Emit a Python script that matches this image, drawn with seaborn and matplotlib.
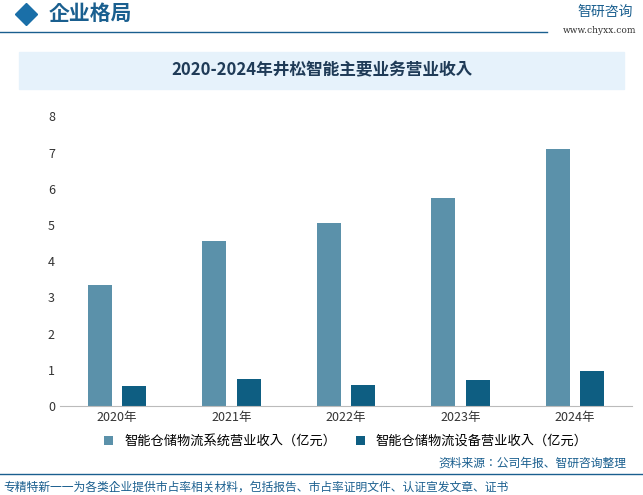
import pandas as pd
import matplotlib.pyplot as plt
import seaborn as sns
from matplotlib.patches import Rectangle

plt.rcParams["font.family"] = ["Noto Sans CJK JP", "Noto Sans CJK SC", "DejaVu Sans"]

years = ["2020年", "2021年", "2022年", "2023年", "2024年"]
series_names = ["智能仓储物流系统营业收入（亿元）", "智能仓储物流设备营业收入（亿元）"]
system_rev = [3.35, 4.55, 5.05, 5.75, 7.1]
equip_rev = [0.55, 0.75, 0.58, 0.72, 0.97]

df = pd.DataFrame({
    "年份": years * 2,
    "系列": [series_names[0]] * 5 + [series_names[1]] * 5,
    "收入": system_rev + equip_rev,
})

fig = plt.figure(figsize=(6.43, 4.95), dpi=100)
ax = fig.add_axes([0.093, 0.18, 0.89, 0.585])

sns.barplot(data=df, x="年份", y="收入", hue="系列", saturation=1,
            palette=["#5b91aa", "#0e5e82"], width=0.6, gap=0.3, ax=ax, legend=True)

ax.set_ylim(0, 8)
ax.set_yticks(range(9))
ax.set_xlabel("")
ax.set_ylabel("")
ax.tick_params(axis="both", length=0, labelsize=9, colors="#333333")
for s in ["top", "right", "left"]:
    ax.spines[s].set_visible(False)
ax.spines["bottom"].set_color("#bbbbbb")
ax.legend(loc="upper center", bbox_to_anchor=(0.5, -0.06), ncol=2, frameon=False,
          fontsize=9.5, handlelength=0.7, handleheight=0.7, columnspacing=1.5)

# header
fig.text(0.075, 0.972, "企业格局", fontsize=15, color="#1a5f8f", weight="bold", va="center")
fig.add_artist(plt.Line2D([0.04], [0.972], marker="D", markersize=11, color="#1a6fa8",
                          transform=fig.transFigure))
fig.add_artist(plt.Line2D([0.0, 0.85], [0.935, 0.935], color="#1a5f8f", lw=1))
fig.text(0.985, 0.975, "智研咨询", fontsize=10, color="#1a5f8f", ha="right", va="center")
fig.text(0.99, 0.938, "www.chyxx.com", fontsize=6.5, color="#333333", ha="right", va="center",
         family="DejaVu Serif")

# title box
fig.patches.append(Rectangle((0.03, 0.82), 0.94, 0.075, transform=fig.transFigure,
                             color="#e6f2fb", zorder=0))
fig.text(0.5, 0.857, "2020-2024年井松智能主要业务营业收入", fontsize=12, weight="bold",
         color="#1f3b57", ha="center", va="center")

# footer
fig.text(0.975, 0.058, "资料来源：公司年报、智研咨询整理", fontsize=8.5, color="#1a5f8f", ha="right")
fig.add_artist(plt.Line2D([0.0, 1.0], [0.042, 0.042], color="#1a5f8f", lw=1))
fig.text(0.005, 0.008, "专精特新一一为各类企业提供市占率相关材料，包括报告、市占率证明文件、认证宣发文章、证书",
         fontsize=8.5, color="#1a5f8f")

fig.savefig("out.png", dpi=100)
